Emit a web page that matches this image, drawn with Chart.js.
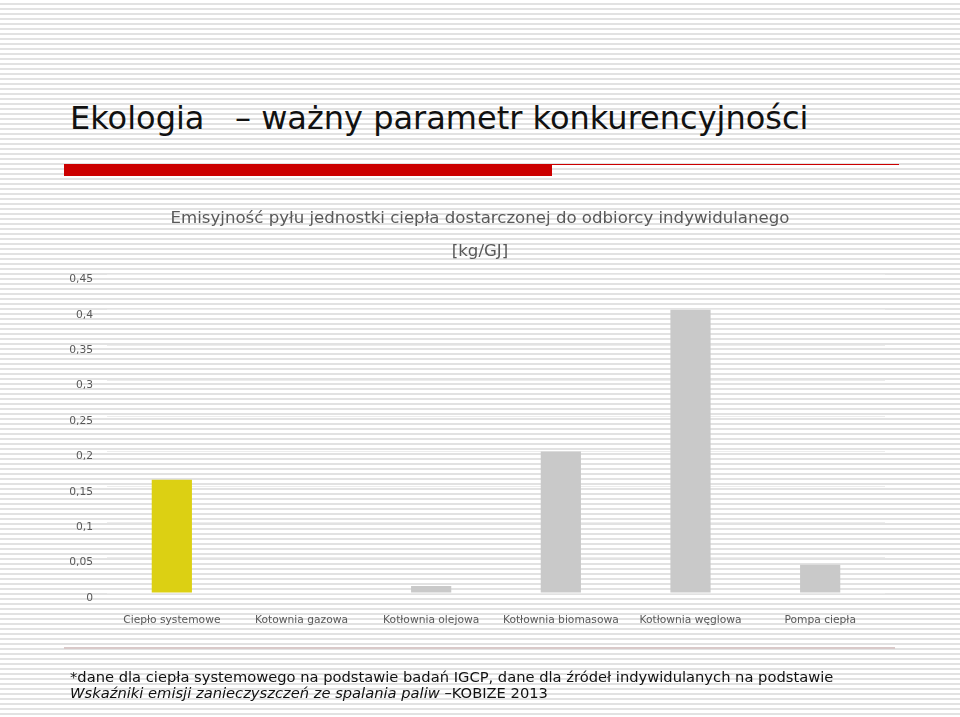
<!DOCTYPE html>
<html lang="pl">
<head>
<meta charset="utf-8">
<script src="https://cdn.jsdelivr.net/npm/chart.js@4/dist/chart.umd.min.js"></script>
<style>
  html, body { margin: 0; padding: 0; }
  body {
    width: 960px; height: 717px; position: relative; overflow: hidden;
    font-family: "DejaVu Sans", Verdana, sans-serif;
    background: repeating-linear-gradient(to bottom, #ffffff 0px, #ffffff 3px, #e2e2e2 3px, #e2e2e2 5px);
  }
  #title { position: absolute; left: 70px; top: 99px; font-size: 32px; color: #111; white-space: pre; }
  #redbar { position: absolute; left: 64px; top: 164px; width: 488px; height: 12px; background: #cc0000; }
  #redline { position: absolute; left: 552px; top: 164px; width: 347px; height: 1px; background: #cc0000; }
  #bottomline { position: absolute; left: 64px; top: 647px; width: 831px; height: 2px; background: #d9c9c9; }
  #note { position: absolute; left: 70px; top: 669px; font-size: 14.7px; line-height: 16px; color: #111; white-space: nowrap; }
  #graph { position: absolute; left: 0; top: 0; }
</style>
</head>
<body>
<div id="title">Ekologia   – ważny parametr konkurencyjności</div>
<div id="redbar"></div>
<div id="redline"></div>
<canvas id="graph" width="960" height="717"></canvas>
<div id="bottomline"></div>
<div id="note">*dane dla ciepła systemowego na podstawie badań IGCP, dane dla źródeł indywidulanych na podstawie<br><i>Wskaźniki emisji zanieczyszczeń ze spalania paliw</i> –KOBIZE 2013</div>
<script>
// dane [kg/GJ]
const kategorie = ['Ciepło systemowe', 'Kotownia gazowa', 'Kotłownia olejowa', 'Kotłownia biomasowa', 'Kotłownia węglowa', 'Pompa ciepła'];
const emisja = [0.16, 0, 0.01, 0.2, 0.4, 0.04];
const kolory = ['#dcd013', '#c9c9c9', '#c9c9c9', '#c9c9c9', '#c9c9c9', '#c9c9c9'];
const tytul = ['Emisyjność pyłu jednostki ciepła dostarczonej do odbiorcy indywidulanego', '[kg/GJ]'];

const chart = new Chart(document.getElementById('graph'), {
    type: 'bar',
    data: {
        labels: kategorie,
        datasets: [{
            data: emisja,
            backgroundColor: kolory,
            barPercentage: 0.31,
            categoryPercentage: 1
        }]
    },
    options: {
        responsive: false,
        animation: false,
        devicePixelRatio: 1,
        layout: { padding: { top: 202, left: 40, right: 40, bottom: 84 } },
        plugins: {
            legend: { display: false },
            tooltip: { enabled: false },
            title: {
                display: true,
                text: tytul,
                color: '#595959',
                font: { family: 'DejaVu Sans', size: 16.6, weight: 'normal', lineHeight: 2 },
                padding: { top: 0, bottom: 6 }
            }
        },
        scales: {
            x: {
                grid: { display: false, drawTicks: false },
                border: { display: false },
                ticks: { color: '#595959', font: { family: 'DejaVu Sans', size: 10.7 }, padding: 21, maxRotation: 0 },
                afterFit: (s) => { s.height = 40; }
            },
            y: {
                min: 0,
                max: 0.45,
                grid: { color: 'rgba(235,235,235,0.9)', lineWidth: 1, drawTicks: false },
                border: { display: false },
                ticks: {
                    stepSize: 0.05,
                    autoSkip: false,
                    color: '#595959',
                    font: { family: 'DejaVu Sans', size: 10.7 },
                    padding: 14,
                    labelOffset: 5,
                    callback: (v) => String(Math.round(v * 100) / 100).replace('.', ',')
                },
                afterFit: (s) => { s.width = 67; }
            },
            // pusta oś po prawej, żeby tytuł był wyśrodkowany na slajdzie
            prawa: {
                position: 'right',
                grid: { display: false },
                border: { display: false },
                ticks: { display: false },
                afterFit: (s) => { s.width = 35; }
            }
        }
    }
});
</script>
</body>
</html>
